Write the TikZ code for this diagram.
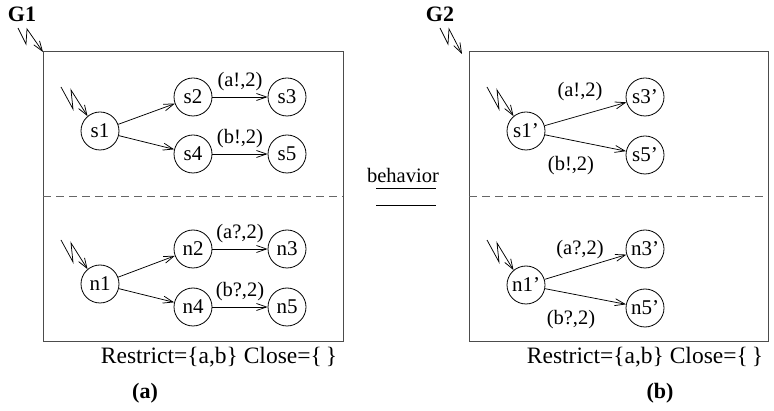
\documentclass[tikz,border=0pt]{standalone}
\usepackage{fontspec}
\setmainfont{Liberation Serif}
\usetikzlibrary{arrows.meta}

\begin{document}
\begin{tikzpicture}[x=1pt,y=-1pt,
  state/.style={circle,draw,line width=0.8pt,minimum size=38pt,inner sep=0pt,
                font=\fontsize{21}{23}\selectfont},
  trans/.style={-{Straight Barb[length=10pt,width=7pt]},line width=0.75pt},
  lbl/.style={font=\fontsize{20.5}{22}\selectfont,inner sep=0pt},
  txt/.style={font=\fontsize{20.5}{22}\selectfont,inner sep=0pt},
  note/.style={font=\fontsize{23.5}{25}\selectfont,inner sep=0pt},
  bold/.style={font=\fontsize{22}{24}\selectfont\bfseries,inner sep=0pt},
  frame/.style={draw=black!70,line width=1pt},
  divider/.style={draw=black!60,line width=0.8pt,dash pattern=on 8pt off 5pt}]
\useasboundingbox (0,0) rectangle (774,411);

% ---------------- left graph G1 ----------------
\node[bold] (g1) at (22,14) {G1};
\coordinate (g1c) at (43,52);
\draw[frame] (43,52) rectangle (343,342);
\draw[divider] (43,196) -- (343,196);
\draw[trans] (18,28) -- ++(8,16) -- ++(1,-15) -- (g1c);

\node[state] (s1) at (100,131) {s1};
\node[state] (s2) at (193,97)  {s2};
\node[state] (s3) at (287,97)  {s3};
\node[state] (s4) at (193,154) {s4};
\node[state] (s5) at (287,154) {s5};
\coordinate (s1in) at (61,87);
\draw[trans] (s1in) -- ++(12,22) -- ++(-2,-19) -- (s1.130);
\draw[trans] (s1) -- (s2);
\draw[trans] (s1) -- (s4);
\draw[trans] (s2) -- node[lbl,above=6pt] (ls3) {(a!,2)} (s3);
\draw[trans] (s4) -- node[lbl,above=6pt] (ls5) {(b!,2)} (s5);

\node[state] (n1) at (100,284) {n1};
\node[state] (n2) at (193,249) {n2};
\node[state] (n3) at (287,249) {n3};
\node[state] (n4) at (193,307) {n4};
\node[state] (n5) at (287,307) {n5};
\coordinate (n1in) at (61,240);
\draw[trans] (n1in) -- ++(12,22) -- ++(-2,-19) -- (n1.130);
\draw[trans] (n1) -- (n2);
\draw[trans] (n1) -- (n4);
\draw[trans] (n2) -- node[lbl,above=6pt] (ln3) {(a?,2)} (n3);
\draw[trans] (n4) -- node[lbl,above=6pt] (ln5) {(b?,2)} (n5);

\node[note] (ra) at (219,357) {Restrict=\{a,b\} Close=\{\,\}};
\node[bold] (capa) at (145,393) {(a)};

% ---------------- relation ----------------
\node[txt] (beh) at (403,175) {behavior};
\draw[line width=0.8pt] (376,188) -- (436,188);
\draw[line width=0.8pt] (376,205) -- (436,205);

% ---------------- right graph G2 ----------------
\node[bold] (g2) at (440,14) {G2};
\coordinate (g2c) at (462,54);
\draw[frame] (469,52) rectangle (768,342);
\draw[divider] (469,196) -- (768,196);
\draw[trans] (440,28) -- ++(8,16) -- ++(1,-15) -- (g2c);

\node[state] (t1) at (526,131) {s1'};
\node[state] (t3) at (645,97)  {s3'};
\node[state] (t5) at (645,155) {s5'};
\coordinate (t1in) at (487,87);
\draw[trans] (t1in) -- ++(12,22) -- ++(-2,-19) -- (t1.130);
\draw[trans] (t1) -- (t3);
\draw[trans] (t1) -- (t5);
\node[lbl] (lt3) at (580,92)  {(a!,2)};
\node[lbl] (lt5) at (571,166) {(b!,2)};

\node[state] (m1) at (526,285) {n1'};
\node[state] (m3) at (645,249) {n3'};
\node[state] (m5) at (645,308) {n5'};
\coordinate (m1in) at (487,240);
\draw[trans] (m1in) -- ++(12,22) -- ++(-2,-19) -- (m1.130);
\draw[trans] (m1) -- (m3);
\draw[trans] (m1) -- (m5);
\node[lbl] (lm3) at (580,250) {(a?,2)};
\node[lbl] (lm5) at (571,320) {(b?,2)};

\node[note] (rb) at (645,357) {Restrict=\{a,b\} Close=\{\,\}};
\node[bold] (capb) at (660,393) {(b)};
\end{tikzpicture}
\end{document}
